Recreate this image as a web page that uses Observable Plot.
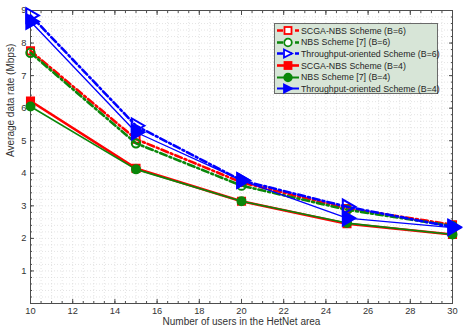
<!DOCTYPE html>
<html><head><meta charset="utf-8">
<script src="https://cdn.jsdelivr.net/npm/d3@7"></script>
<script src="https://cdn.jsdelivr.net/npm/@observablehq/plot@0.6"></script>
<style>
body{margin:0;background:#fff;font-family:"Liberation Sans",Arial,sans-serif;}
#wrap{position:relative;width:471px;height:328px;}
#legend{position:absolute;left:274px;top:23px;width:164px;height:71px;background:#d7e5d7;border:1px solid #6a6a6a;box-sizing:border-box;font-size:8.8px;color:#262626;padding-top:1px;}
.row{display:flex;align-items:center;height:11.6px;white-space:nowrap;}
.row svg{flex:none;margin-left:1px;margin-right:1px;}
</style></head>
<body><div id="wrap"></div>
<script>
// data
const users = [10, 15, 20, 25, 30];
const scgaB6 = [7.76, 5.05, 3.72, 2.92, 2.42];
const nbsB6  = [7.70, 4.92, 3.62, 2.88, 2.38];
const thrB6  = [8.85, 5.46, 3.78, 2.97, 2.35];
const scgaB4 = [6.22, 4.15, 3.14, 2.45, 2.12];
const nbsB4  = [6.05, 4.12, 3.14, 2.47, 2.12];
const thrB4  = [8.66, 5.26, 3.78, 2.62, 2.33];
const seriesNames = [
  "SCGA-NBS Scheme (B=6)", "NBS Scheme [7] (B=6)", "Throughput-oriented Scheme (B=6)",
  "SCGA-NBS Scheme (B=4)", "NBS Scheme [7] (B=4)", "Throughput-oriented Scheme (B=4)"
];
const xTicks = [10, 12, 14, 16, 18, 20, 22, 24, 26, 28, 30];
const yTicks = [1, 2, 3, 4, 5, 6, 7, 8, 9];
const xLabel = "Number of users in the HetNet area";
const yLabel = "Average data rate (Mbps)";

const DASH = "7,3,2,3";
const styles = [
  {values: scgaB6, color: "#ff0000", dash: DASH, width: 2.6, symbol: "square", open: true, r: 4},
  {values: nbsB6,  color: "#0a870a", dash: DASH, width: 2.6, symbol: "circle", open: true, r: 4.2},
  {values: thrB6,  color: "#0000ff", dash: DASH, width: 2.6, symbol: "triangle", open: true, r: 5.4},
  {values: scgaB4, color: "#ff0000", dash: null, width: 2.6, symbol: "square", open: false, r: 4},
  {values: nbsB4,  color: "#0a870a", dash: null, width: 1.6, symbol: "circle", open: false, r: 4},
  {values: thrB4,  color: "#0000ff", dash: null, width: 1.3, symbol: "triangle", open: false, r: 5.4}
];
const rows = [];
styles.forEach((s, i) => s.values.forEach((v, j) => rows.push({series: i, x: users[j], y: v})));

const gridColor = "#d8d8d8";
const axisColor = "#4d4d4d";
const marks = [
  Plot.ruleX(d3.range(10.5, 30, 0.5), {stroke: gridColor, strokeDasharray: "1,2", strokeWidth: 0.7}),
  Plot.ruleY(d3.range(0.2, 9, 0.2), {stroke: gridColor, strokeDasharray: "1,2", strokeWidth: 0.7}),
  Plot.frame({stroke: axisColor, strokeWidth: 1}),
  // major ticks with labels
  Plot.axisX({ticks: xTicks, tickSize: -4, tickPadding: 8, fontSize: 9.3, color: "#333", stroke: axisColor, label: null}),
  Plot.axisY({ticks: yTicks, tickSize: -4, tickPadding: 8, fontSize: 9.3, color: "#333", stroke: axisColor, label: null}),
  Plot.axisX({anchor: "top", ticks: xTicks, tickSize: -4, tickFormat: () => "", stroke: axisColor, label: null}),
  Plot.axisY({anchor: "right", ticks: yTicks, tickSize: -4, tickFormat: () => "", stroke: axisColor, label: null}),
  // minor ticks
  Plot.axisX({ticks: d3.range(10, 30.01, 0.5), tickSize: -2, tickFormat: () => "", stroke: axisColor, label: null}),
  Plot.axisX({anchor: "top", ticks: d3.range(10, 30.01, 0.5), tickSize: -2, tickFormat: () => "", stroke: axisColor, label: null}),
  Plot.axisY({ticks: d3.range(0, 9.01, 0.2), tickSize: -2, tickFormat: () => "", stroke: axisColor, label: null}),
  Plot.axisY({anchor: "right", ticks: d3.range(0, 9.01, 0.2), tickSize: -2, tickFormat: () => "", stroke: axisColor, label: null}),
  Plot.text([xLabel], {frameAnchor: "bottom", dy: 21.5, text: d => d, fontSize: 10, fill: "#333"}),
  Plot.text([yLabel], {frameAnchor: "left", dx: -20, rotate: -90, text: d => d, fontSize: 10, fill: "#333"})
];
styles.forEach((s, i) => {
  const data = rows.filter(d => d.series === i);
  marks.push(Plot.line(data, {x: "x", y: "y", stroke: s.color, strokeWidth: s.width, strokeDasharray: s.dash ?? undefined}));
  marks.push(Plot.dot(data, {
    x: "x", y: "y", symbol: s.symbol, r: s.r,
    rotate: s.symbol === "triangle" ? 90 : 0,
    stroke: s.color, strokeWidth: 2,
    fill: s.open ? "none" : s.color
  }));
});

const chart = Plot.plot({
  width: 471, height: 328,
  marginLeft: 30, marginRight: 19, marginTop: 10, marginBottom: 25,
  x: {domain: [10, 30]},
  y: {domain: [0, 9]},
  style: {fontFamily: '"Liberation Sans", Arial, sans-serif', background: "#fff"},
  marks
});
const wrap = document.getElementById("wrap");
wrap.appendChild(chart);

// legend
const legend = document.createElement("div");
legend.id = "legend";
styles.forEach((s, i) => {
  const row = document.createElement("div");
  row.className = "row";
  const ns = "http://www.w3.org/2000/svg";
  const svg = document.createElementNS(ns, "svg");
  svg.setAttribute("width", 24); svg.setAttribute("height", 11);
  const ln = document.createElementNS(ns, "line");
  ln.setAttribute("x1", 1); ln.setAttribute("x2", 23); ln.setAttribute("y1", 5.5); ln.setAttribute("y2", 5.5);
  ln.setAttribute("stroke", s.color); ln.setAttribute("stroke-width", Math.max(s.width, 2));
  if (s.dash) ln.setAttribute("stroke-dasharray", "6,3");
  svg.appendChild(ln);
  let m;
  const fill = s.open ? "#fff" : s.color;
  if (s.symbol === "square") {
    m = document.createElementNS(ns, "rect");
    m.setAttribute("x", 8.5); m.setAttribute("y", 2); m.setAttribute("width", 7); m.setAttribute("height", 7);
  } else if (s.symbol === "circle") {
    m = document.createElementNS(ns, "circle");
    m.setAttribute("cx", 12); m.setAttribute("cy", 5.5); m.setAttribute("r", 3.8);
  } else {
    m = document.createElementNS(ns, "path");
    m.setAttribute("d", "M8,1.5L16,5.5L8,9.5Z");
  }
  m.setAttribute("fill", fill); m.setAttribute("stroke", s.color); m.setAttribute("stroke-width", 1.8);
  svg.appendChild(m);
  row.appendChild(svg);
  const t = document.createElement("span");
  t.textContent = seriesNames[i];
  row.appendChild(t);
  legend.appendChild(row);
});
wrap.appendChild(legend);
</script></body></html>
